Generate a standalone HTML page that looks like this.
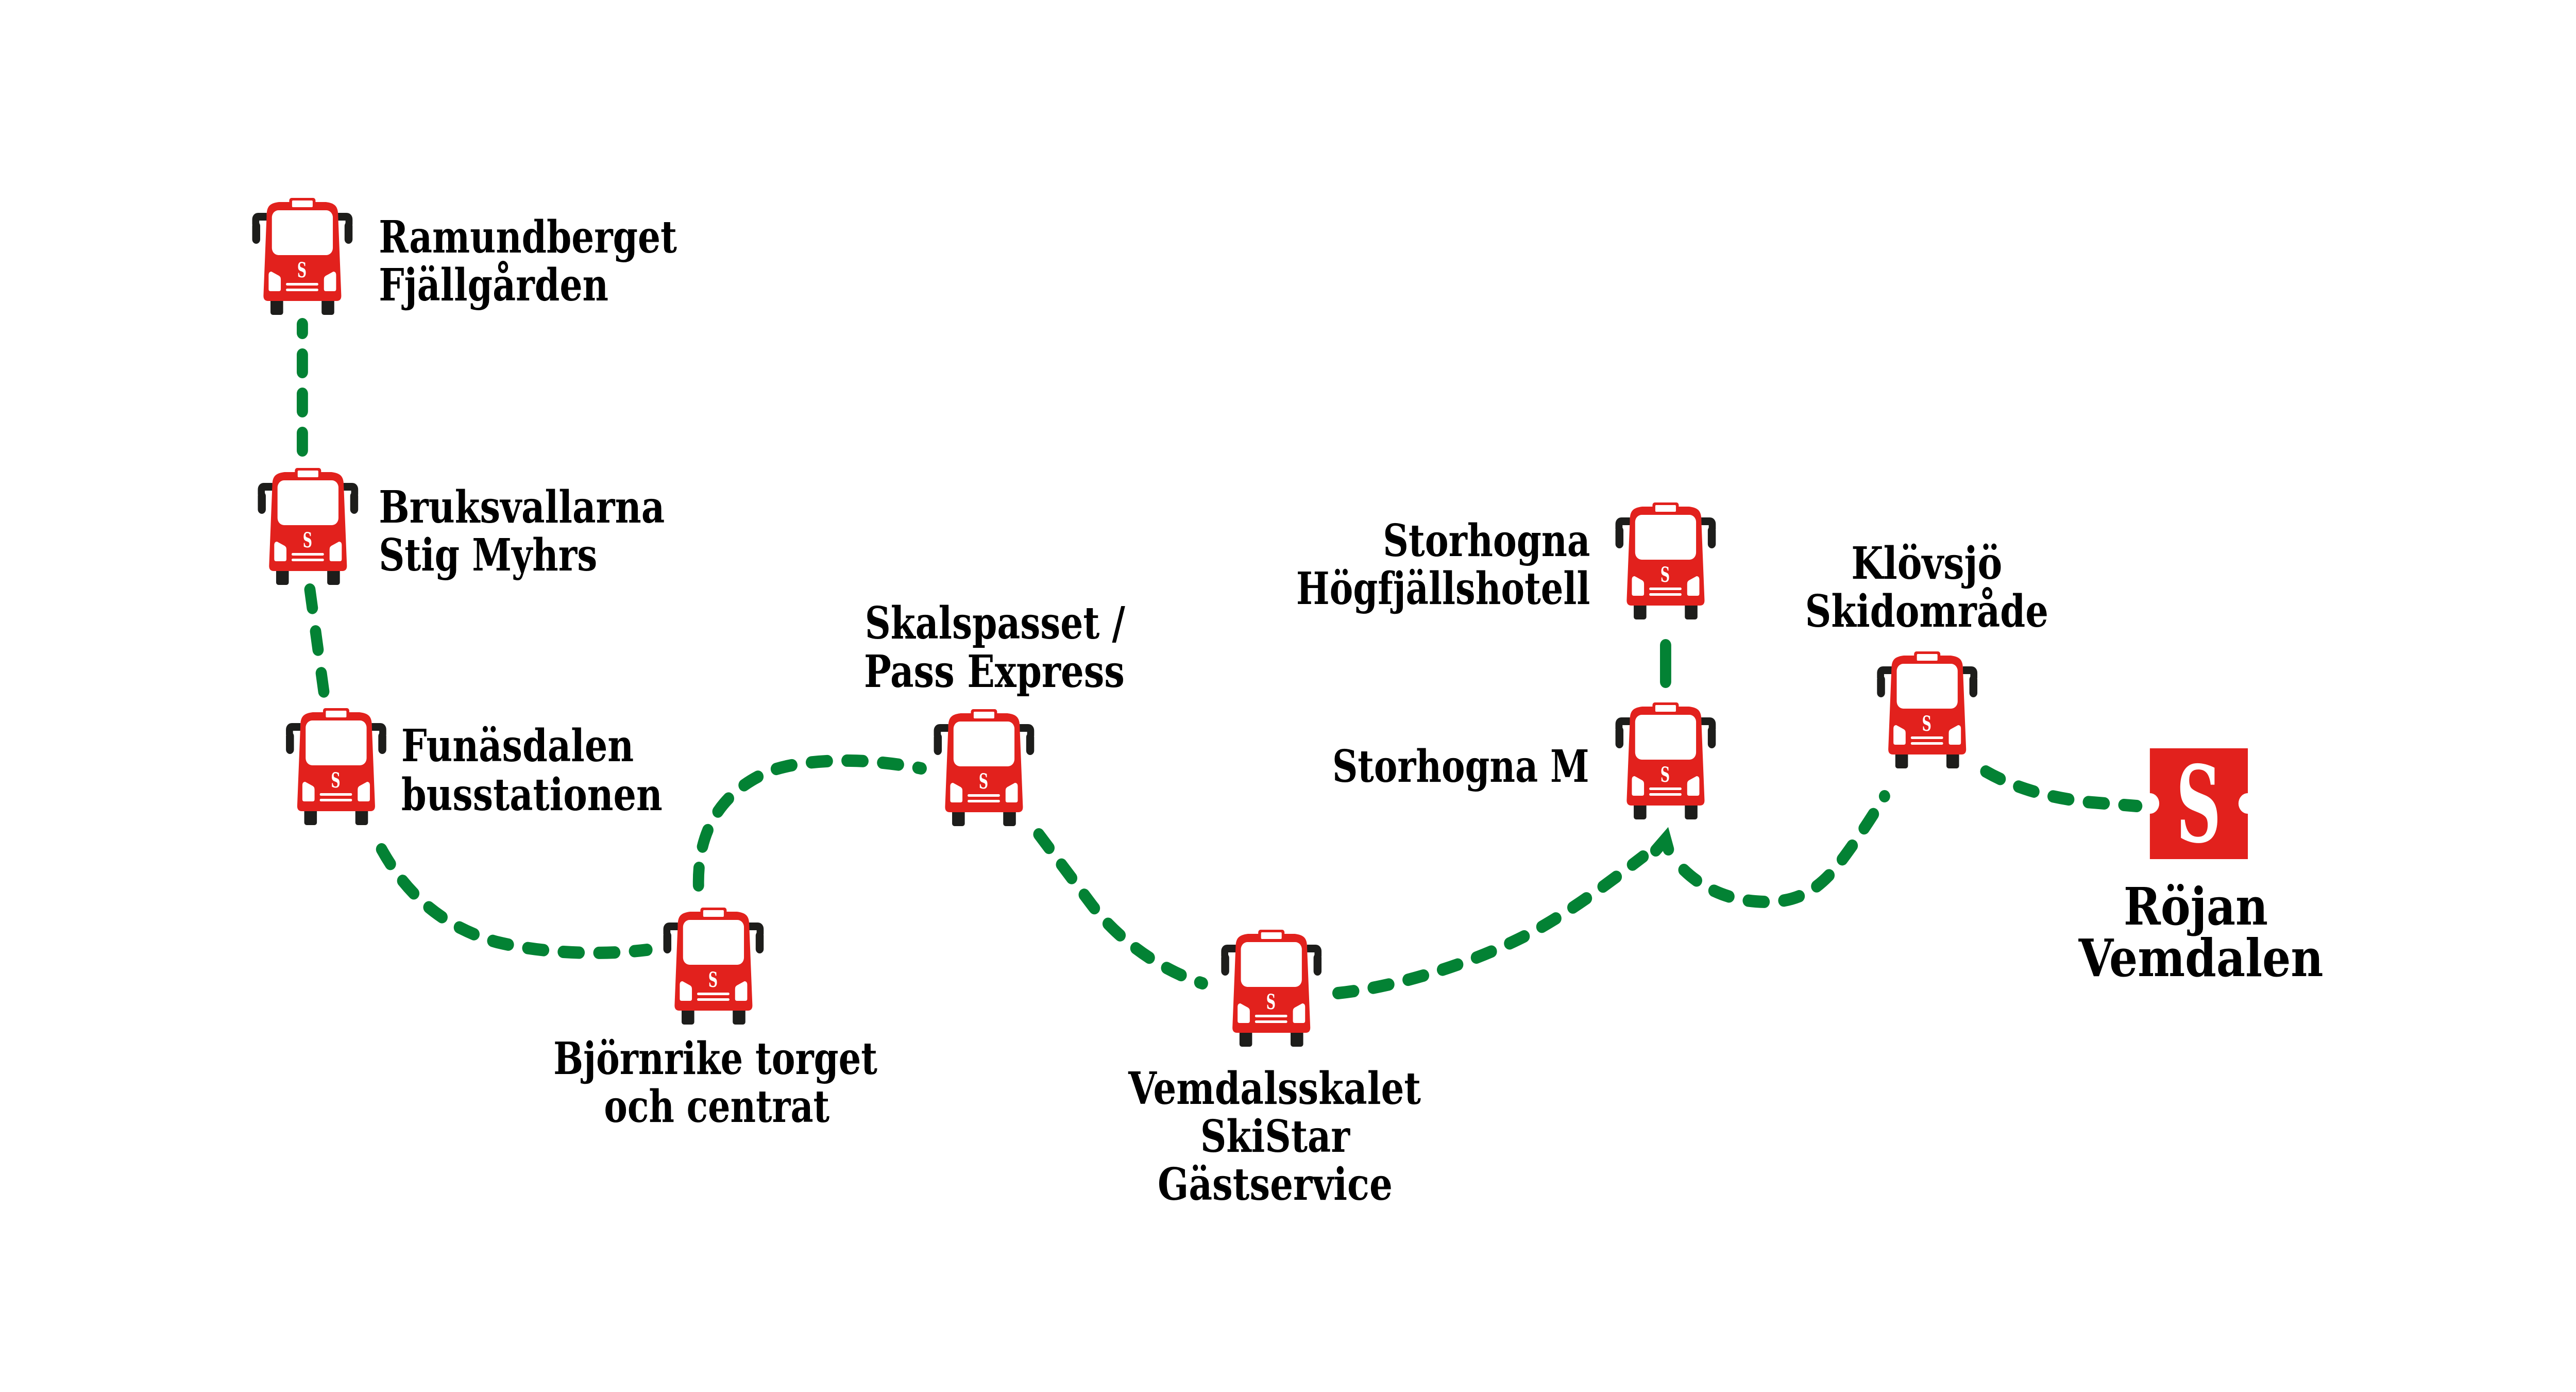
<!DOCTYPE html>
<html>
<head>
<meta charset="utf-8">
<style>
html,body{margin:0;padding:0;background:#fff;overflow:hidden;width:100%;height:100%;}
svg{display:block;position:fixed;left:0;top:0;width:100vw;height:100vh;}
text{font-family:"DejaVu Serif","Liberation Serif",serif;font-weight:bold;font-size:86px;fill:#000;}
.rt{fill:none;stroke:#038234;stroke-width:24;stroke-linecap:round;stroke-linejoin:round;stroke-dasharray:34 42;}
.rs{fill:none;stroke:#038234;stroke-width:24;stroke-linecap:round;stroke-linejoin:miter;}
.wh{fill:#1d1d1b;}
.rd{fill:#e2211d;}
.wt{fill:#fff;}
.bs{font-size:40px;fill:#fff;}
</style>
</head>
<body>
<svg viewBox="0 0 5495 2701" preserveAspectRatio="none" xmlns="http://www.w3.org/2000/svg">
<rect x="0" y="0" width="5495" height="2701" fill="#fff"/>

<!-- routes -->
<path class="rt" style="stroke-dashoffset:17" d="M645,629 L645,874"/>
<path class="rt" style="stroke-dasharray:36 46" d="M661,1144 L691,1344"/>
<path class="rt" d="M814,1648 C870,1740 950,1800 1060,1828 C1170,1852 1290,1853 1380,1843"/>
<path class="rt" d="M1490,1718 C1488,1620 1530,1540 1640,1497 C1700,1476 1800,1473 1860,1478 C1910,1482 1945,1487 1965,1491"/>
<path class="rt" d="M2216,1619 L2330,1757 C2385,1822 2470,1880 2565,1908"/>
<path class="rt" d="M2854,1927 C2960,1917 3110,1880 3240,1822 C3340,1778 3450,1700 3505,1662"/>
<path class="rs" d="M3532,1650 L3553,1628 L3559,1648"/>
<path class="rt" d="M3592,1688 C3640,1730 3700,1750 3770,1750 C3840,1750 3880,1722 3915,1685 C3950,1645 3990,1590 4020,1545"/>
<path class="rt" d="M4236,1497 C4300,1530 4370,1547 4450,1556 L4558,1564"/>
<path class="rs" style="stroke-linecap:round" d="M3553,1252 L3553,1323"/>

<!-- bus 1 -->
<g transform="translate(645,384)">
<rect class="wh" x="-68" y="190" width="27" height="37" rx="5"/><rect class="wh" x="41" y="190" width="27" height="37" rx="5"/>
<path d="M-76,36.5 H-94 Q-99.5,36.5 -99.5,42 V52" fill="none" stroke="#1d1d1b" stroke-width="15"/>
<path d="M76,36.5 H94 Q99.5,36.5 99.5,42 V52" fill="none" stroke="#1d1d1b" stroke-width="15"/>
<rect class="wh" x="-107" y="46" width="17" height="43" rx="8.5"/><rect class="wh" x="90" y="46" width="17" height="43" rx="8.5"/>
<rect class="rd" x="-28" y="0" width="56" height="14" rx="5"/>
<path class="rd" d="M-83,190 L-76,30 C-75,14 -66,10 -50,8 L50,8 C66,10 75,14 76,30 L83,190 Q83,200 73,200 L-73,200 Q-83,200 -83,190 Z"/>
<rect class="wt" x="-22" y="5" width="44" height="13" rx="2"/>
<rect class="wt" x="-65" y="24" width="130" height="87" rx="14"/>
<path class="wt" d="M-72,150 Q-72,143 -66,143 L-50,151 Q-46,153 -46,158 V177 Q-46,181 -50,181 H-68 Q-72,181 -72,177 Z"/>
<path class="wt" d="M72,150 Q72,143 66,143 L50,151 Q46,153 46,158 V177 Q46,181 50,181 H68 Q72,181 72,177 Z"/>
<rect class="wt" x="-35" y="165" width="69" height="5" rx="2.5"/><rect class="wt" x="-35" y="176" width="69" height="5" rx="2.5"/>
<text class="bs" x="-1" y="154" text-anchor="middle" textLength="20" lengthAdjust="spacingAndGlyphs">S</text>
</g>

<!-- bus 2 -->
<g transform="translate(657,908)">
<rect class="wh" x="-68" y="190" width="27" height="37" rx="5"/><rect class="wh" x="41" y="190" width="27" height="37" rx="5"/>
<path d="M-76,36.5 H-94 Q-99.5,36.5 -99.5,42 V52" fill="none" stroke="#1d1d1b" stroke-width="15"/>
<path d="M76,36.5 H94 Q99.5,36.5 99.5,42 V52" fill="none" stroke="#1d1d1b" stroke-width="15"/>
<rect class="wh" x="-107" y="46" width="17" height="43" rx="8.5"/><rect class="wh" x="90" y="46" width="17" height="43" rx="8.5"/>
<rect class="rd" x="-28" y="0" width="56" height="14" rx="5"/>
<path class="rd" d="M-83,190 L-76,30 C-75,14 -66,10 -50,8 L50,8 C66,10 75,14 76,30 L83,190 Q83,200 73,200 L-73,200 Q-83,200 -83,190 Z"/>
<rect class="wt" x="-22" y="5" width="44" height="13" rx="2"/>
<rect class="wt" x="-65" y="24" width="130" height="87" rx="14"/>
<path class="wt" d="M-72,150 Q-72,143 -66,143 L-50,151 Q-46,153 -46,158 V177 Q-46,181 -50,181 H-68 Q-72,181 -72,177 Z"/>
<path class="wt" d="M72,150 Q72,143 66,143 L50,151 Q46,153 46,158 V177 Q46,181 50,181 H68 Q72,181 72,177 Z"/>
<rect class="wt" x="-35" y="165" width="69" height="5" rx="2.5"/><rect class="wt" x="-35" y="176" width="69" height="5" rx="2.5"/>
<text class="bs" x="-1" y="154" text-anchor="middle" textLength="20" lengthAdjust="spacingAndGlyphs">S</text>
</g>

<!-- bus 3 -->
<g transform="translate(717,1374)">
<rect class="wh" x="-68" y="190" width="27" height="37" rx="5"/><rect class="wh" x="41" y="190" width="27" height="37" rx="5"/>
<path d="M-76,36.5 H-94 Q-99.5,36.5 -99.5,42 V52" fill="none" stroke="#1d1d1b" stroke-width="15"/>
<path d="M76,36.5 H94 Q99.5,36.5 99.5,42 V52" fill="none" stroke="#1d1d1b" stroke-width="15"/>
<rect class="wh" x="-107" y="46" width="17" height="43" rx="8.5"/><rect class="wh" x="90" y="46" width="17" height="43" rx="8.5"/>
<rect class="rd" x="-28" y="0" width="56" height="14" rx="5"/>
<path class="rd" d="M-83,190 L-76,30 C-75,14 -66,10 -50,8 L50,8 C66,10 75,14 76,30 L83,190 Q83,200 73,200 L-73,200 Q-83,200 -83,190 Z"/>
<rect class="wt" x="-22" y="5" width="44" height="13" rx="2"/>
<rect class="wt" x="-65" y="24" width="130" height="87" rx="14"/>
<path class="wt" d="M-72,150 Q-72,143 -66,143 L-50,151 Q-46,153 -46,158 V177 Q-46,181 -50,181 H-68 Q-72,181 -72,177 Z"/>
<path class="wt" d="M72,150 Q72,143 66,143 L50,151 Q46,153 46,158 V177 Q46,181 50,181 H68 Q72,181 72,177 Z"/>
<rect class="wt" x="-35" y="165" width="69" height="5" rx="2.5"/><rect class="wt" x="-35" y="176" width="69" height="5" rx="2.5"/>
<text class="bs" x="-1" y="154" text-anchor="middle" textLength="20" lengthAdjust="spacingAndGlyphs">S</text>
</g>

<!-- bus 4 -->
<g transform="translate(1522,1761)">
<rect class="wh" x="-68" y="190" width="27" height="37" rx="5"/><rect class="wh" x="41" y="190" width="27" height="37" rx="5"/>
<path d="M-76,36.5 H-94 Q-99.5,36.5 -99.5,42 V52" fill="none" stroke="#1d1d1b" stroke-width="15"/>
<path d="M76,36.5 H94 Q99.5,36.5 99.5,42 V52" fill="none" stroke="#1d1d1b" stroke-width="15"/>
<rect class="wh" x="-107" y="46" width="17" height="43" rx="8.5"/><rect class="wh" x="90" y="46" width="17" height="43" rx="8.5"/>
<rect class="rd" x="-28" y="0" width="56" height="14" rx="5"/>
<path class="rd" d="M-83,190 L-76,30 C-75,14 -66,10 -50,8 L50,8 C66,10 75,14 76,30 L83,190 Q83,200 73,200 L-73,200 Q-83,200 -83,190 Z"/>
<rect class="wt" x="-22" y="5" width="44" height="13" rx="2"/>
<rect class="wt" x="-65" y="24" width="130" height="87" rx="14"/>
<path class="wt" d="M-72,150 Q-72,143 -66,143 L-50,151 Q-46,153 -46,158 V177 Q-46,181 -50,181 H-68 Q-72,181 -72,177 Z"/>
<path class="wt" d="M72,150 Q72,143 66,143 L50,151 Q46,153 46,158 V177 Q46,181 50,181 H68 Q72,181 72,177 Z"/>
<rect class="wt" x="-35" y="165" width="69" height="5" rx="2.5"/><rect class="wt" x="-35" y="176" width="69" height="5" rx="2.5"/>
<text class="bs" x="-1" y="154" text-anchor="middle" textLength="20" lengthAdjust="spacingAndGlyphs">S</text>
</g>

<!-- bus 5 -->
<g transform="translate(2099,1376)">
<rect class="wh" x="-68" y="190" width="27" height="37" rx="5"/><rect class="wh" x="41" y="190" width="27" height="37" rx="5"/>
<path d="M-76,36.5 H-94 Q-99.5,36.5 -99.5,42 V52" fill="none" stroke="#1d1d1b" stroke-width="15"/>
<path d="M76,36.5 H94 Q99.5,36.5 99.5,42 V52" fill="none" stroke="#1d1d1b" stroke-width="15"/>
<rect class="wh" x="-107" y="46" width="17" height="43" rx="8.5"/><rect class="wh" x="90" y="46" width="17" height="43" rx="8.5"/>
<rect class="rd" x="-28" y="0" width="56" height="14" rx="5"/>
<path class="rd" d="M-83,190 L-76,30 C-75,14 -66,10 -50,8 L50,8 C66,10 75,14 76,30 L83,190 Q83,200 73,200 L-73,200 Q-83,200 -83,190 Z"/>
<rect class="wt" x="-22" y="5" width="44" height="13" rx="2"/>
<rect class="wt" x="-65" y="24" width="130" height="87" rx="14"/>
<path class="wt" d="M-72,150 Q-72,143 -66,143 L-50,151 Q-46,153 -46,158 V177 Q-46,181 -50,181 H-68 Q-72,181 -72,177 Z"/>
<path class="wt" d="M72,150 Q72,143 66,143 L50,151 Q46,153 46,158 V177 Q46,181 50,181 H68 Q72,181 72,177 Z"/>
<rect class="wt" x="-35" y="165" width="69" height="5" rx="2.5"/><rect class="wt" x="-35" y="176" width="69" height="5" rx="2.5"/>
<text class="bs" x="-1" y="154" text-anchor="middle" textLength="20" lengthAdjust="spacingAndGlyphs">S</text>
</g>

<!-- bus 6 -->
<g transform="translate(2712,1804)">
<rect class="wh" x="-68" y="190" width="27" height="37" rx="5"/><rect class="wh" x="41" y="190" width="27" height="37" rx="5"/>
<path d="M-76,36.5 H-94 Q-99.5,36.5 -99.5,42 V52" fill="none" stroke="#1d1d1b" stroke-width="15"/>
<path d="M76,36.5 H94 Q99.5,36.5 99.5,42 V52" fill="none" stroke="#1d1d1b" stroke-width="15"/>
<rect class="wh" x="-107" y="46" width="17" height="43" rx="8.5"/><rect class="wh" x="90" y="46" width="17" height="43" rx="8.5"/>
<rect class="rd" x="-28" y="0" width="56" height="14" rx="5"/>
<path class="rd" d="M-83,190 L-76,30 C-75,14 -66,10 -50,8 L50,8 C66,10 75,14 76,30 L83,190 Q83,200 73,200 L-73,200 Q-83,200 -83,190 Z"/>
<rect class="wt" x="-22" y="5" width="44" height="13" rx="2"/>
<rect class="wt" x="-65" y="24" width="130" height="87" rx="14"/>
<path class="wt" d="M-72,150 Q-72,143 -66,143 L-50,151 Q-46,153 -46,158 V177 Q-46,181 -50,181 H-68 Q-72,181 -72,177 Z"/>
<path class="wt" d="M72,150 Q72,143 66,143 L50,151 Q46,153 46,158 V177 Q46,181 50,181 H68 Q72,181 72,177 Z"/>
<rect class="wt" x="-35" y="165" width="69" height="5" rx="2.5"/><rect class="wt" x="-35" y="176" width="69" height="5" rx="2.5"/>
<text class="bs" x="-1" y="154" text-anchor="middle" textLength="20" lengthAdjust="spacingAndGlyphs">S</text>
</g>

<!-- bus 7 -->
<g transform="translate(3553,975)">
<rect class="wh" x="-68" y="190" width="27" height="37" rx="5"/><rect class="wh" x="41" y="190" width="27" height="37" rx="5"/>
<path d="M-76,36.5 H-94 Q-99.5,36.5 -99.5,42 V52" fill="none" stroke="#1d1d1b" stroke-width="15"/>
<path d="M76,36.5 H94 Q99.5,36.5 99.5,42 V52" fill="none" stroke="#1d1d1b" stroke-width="15"/>
<rect class="wh" x="-107" y="46" width="17" height="43" rx="8.5"/><rect class="wh" x="90" y="46" width="17" height="43" rx="8.5"/>
<rect class="rd" x="-28" y="0" width="56" height="14" rx="5"/>
<path class="rd" d="M-83,190 L-76,30 C-75,14 -66,10 -50,8 L50,8 C66,10 75,14 76,30 L83,190 Q83,200 73,200 L-73,200 Q-83,200 -83,190 Z"/>
<rect class="wt" x="-22" y="5" width="44" height="13" rx="2"/>
<rect class="wt" x="-65" y="24" width="130" height="87" rx="14"/>
<path class="wt" d="M-72,150 Q-72,143 -66,143 L-50,151 Q-46,153 -46,158 V177 Q-46,181 -50,181 H-68 Q-72,181 -72,177 Z"/>
<path class="wt" d="M72,150 Q72,143 66,143 L50,151 Q46,153 46,158 V177 Q46,181 50,181 H68 Q72,181 72,177 Z"/>
<rect class="wt" x="-35" y="165" width="69" height="5" rx="2.5"/><rect class="wt" x="-35" y="176" width="69" height="5" rx="2.5"/>
<text class="bs" x="-1" y="154" text-anchor="middle" textLength="20" lengthAdjust="spacingAndGlyphs">S</text>
</g>

<!-- bus 8 -->
<g transform="translate(3553,1363)">
<rect class="wh" x="-68" y="190" width="27" height="37" rx="5"/><rect class="wh" x="41" y="190" width="27" height="37" rx="5"/>
<path d="M-76,36.5 H-94 Q-99.5,36.5 -99.5,42 V52" fill="none" stroke="#1d1d1b" stroke-width="15"/>
<path d="M76,36.5 H94 Q99.5,36.5 99.5,42 V52" fill="none" stroke="#1d1d1b" stroke-width="15"/>
<rect class="wh" x="-107" y="46" width="17" height="43" rx="8.5"/><rect class="wh" x="90" y="46" width="17" height="43" rx="8.5"/>
<rect class="rd" x="-28" y="0" width="56" height="14" rx="5"/>
<path class="rd" d="M-83,190 L-76,30 C-75,14 -66,10 -50,8 L50,8 C66,10 75,14 76,30 L83,190 Q83,200 73,200 L-73,200 Q-83,200 -83,190 Z"/>
<rect class="wt" x="-22" y="5" width="44" height="13" rx="2"/>
<rect class="wt" x="-65" y="24" width="130" height="87" rx="14"/>
<path class="wt" d="M-72,150 Q-72,143 -66,143 L-50,151 Q-46,153 -46,158 V177 Q-46,181 -50,181 H-68 Q-72,181 -72,177 Z"/>
<path class="wt" d="M72,150 Q72,143 66,143 L50,151 Q46,153 46,158 V177 Q46,181 50,181 H68 Q72,181 72,177 Z"/>
<rect class="wt" x="-35" y="165" width="69" height="5" rx="2.5"/><rect class="wt" x="-35" y="176" width="69" height="5" rx="2.5"/>
<text class="bs" x="-1" y="154" text-anchor="middle" textLength="20" lengthAdjust="spacingAndGlyphs">S</text>
</g>

<!-- bus 9 -->
<g transform="translate(4111,1264)">
<rect class="wh" x="-68" y="190" width="27" height="37" rx="5"/><rect class="wh" x="41" y="190" width="27" height="37" rx="5"/>
<path d="M-76,36.5 H-94 Q-99.5,36.5 -99.5,42 V52" fill="none" stroke="#1d1d1b" stroke-width="15"/>
<path d="M76,36.5 H94 Q99.5,36.5 99.5,42 V52" fill="none" stroke="#1d1d1b" stroke-width="15"/>
<rect class="wh" x="-107" y="46" width="17" height="43" rx="8.5"/><rect class="wh" x="90" y="46" width="17" height="43" rx="8.5"/>
<rect class="rd" x="-28" y="0" width="56" height="14" rx="5"/>
<path class="rd" d="M-83,190 L-76,30 C-75,14 -66,10 -50,8 L50,8 C66,10 75,14 76,30 L83,190 Q83,200 73,200 L-73,200 Q-83,200 -83,190 Z"/>
<rect class="wt" x="-22" y="5" width="44" height="13" rx="2"/>
<rect class="wt" x="-65" y="24" width="130" height="87" rx="14"/>
<path class="wt" d="M-72,150 Q-72,143 -66,143 L-50,151 Q-46,153 -46,158 V177 Q-46,181 -50,181 H-68 Q-72,181 -72,177 Z"/>
<path class="wt" d="M72,150 Q72,143 66,143 L50,151 Q46,153 46,158 V177 Q46,181 50,181 H68 Q72,181 72,177 Z"/>
<rect class="wt" x="-35" y="165" width="69" height="5" rx="2.5"/><rect class="wt" x="-35" y="176" width="69" height="5" rx="2.5"/>
<text class="bs" x="-1" y="154" text-anchor="middle" textLength="20" lengthAdjust="spacingAndGlyphs">S</text>
</g>

<!-- S logo -->
<path class="rd" d="M4586,1452 H4795 V1539 A20,20 0 0 0 4795,1579 V1667 H4586 V1579 A20,20 0 0 0 4586,1539 Z"/>
<text x="4690" y="1633" style="font-size:205px;fill:#fff" text-anchor="middle" textLength="96" lengthAdjust="spacingAndGlyphs">S</text>

<!-- labels -->
<text x="808" y="490" textLength="636" lengthAdjust="spacingAndGlyphs">Ramundberget</text>
<text x="808" y="583" textLength="490" lengthAdjust="spacingAndGlyphs">Fjällgården</text>

<text x="808" y="1014" textLength="610" lengthAdjust="spacingAndGlyphs">Bruksvallarna</text>
<text x="808" y="1107" textLength="466" lengthAdjust="spacingAndGlyphs">Stig Myhrs</text>

<text x="856" y="1477" textLength="496" lengthAdjust="spacingAndGlyphs">Funäsdalen</text>
<text x="856" y="1572" textLength="557" lengthAdjust="spacingAndGlyphs">busstationen</text>

<text x="1526" y="2084" text-anchor="middle" textLength="691" lengthAdjust="spacingAndGlyphs">Björnrike torget</text>
<text x="1529" y="2177" text-anchor="middle" textLength="481" lengthAdjust="spacingAndGlyphs">och centrat</text>

<text x="1845" y="1239" textLength="555" lengthAdjust="spacingAndGlyphs">Skalspasset /</text>
<text x="1843" y="1333" textLength="556" lengthAdjust="spacingAndGlyphs">Pass Express</text>

<text x="2719" y="2142" text-anchor="middle" textLength="624" lengthAdjust="spacingAndGlyphs">Vemdalsskalet</text>
<text x="2720" y="2235" text-anchor="middle" textLength="319" lengthAdjust="spacingAndGlyphs">SkiStar</text>
<text x="2720" y="2328" text-anchor="middle" textLength="501" lengthAdjust="spacingAndGlyphs">Gästservice</text>

<text x="3392" y="1079" text-anchor="end" textLength="442" lengthAdjust="spacingAndGlyphs">Storhogna</text>
<text x="3392" y="1172" text-anchor="end" textLength="627" lengthAdjust="spacingAndGlyphs">Högfjällshotell</text>

<text x="3390" y="1517" text-anchor="end" textLength="548" lengthAdjust="spacingAndGlyphs">Storhogna M</text>

<text x="4110" y="1123" text-anchor="middle" textLength="322" lengthAdjust="spacingAndGlyphs">Klövsjö</text>
<text x="4110" y="1216" text-anchor="middle" textLength="519" lengthAdjust="spacingAndGlyphs">Skidområde</text>

<text x="4684" y="1794" style="font-size:100px" text-anchor="middle" textLength="308" lengthAdjust="spacingAndGlyphs">Röjan</text>
<text x="4695" y="1894" style="font-size:100px" text-anchor="middle" textLength="522" lengthAdjust="spacingAndGlyphs">Vemdalen</text>
</svg>
</body>
</html>
